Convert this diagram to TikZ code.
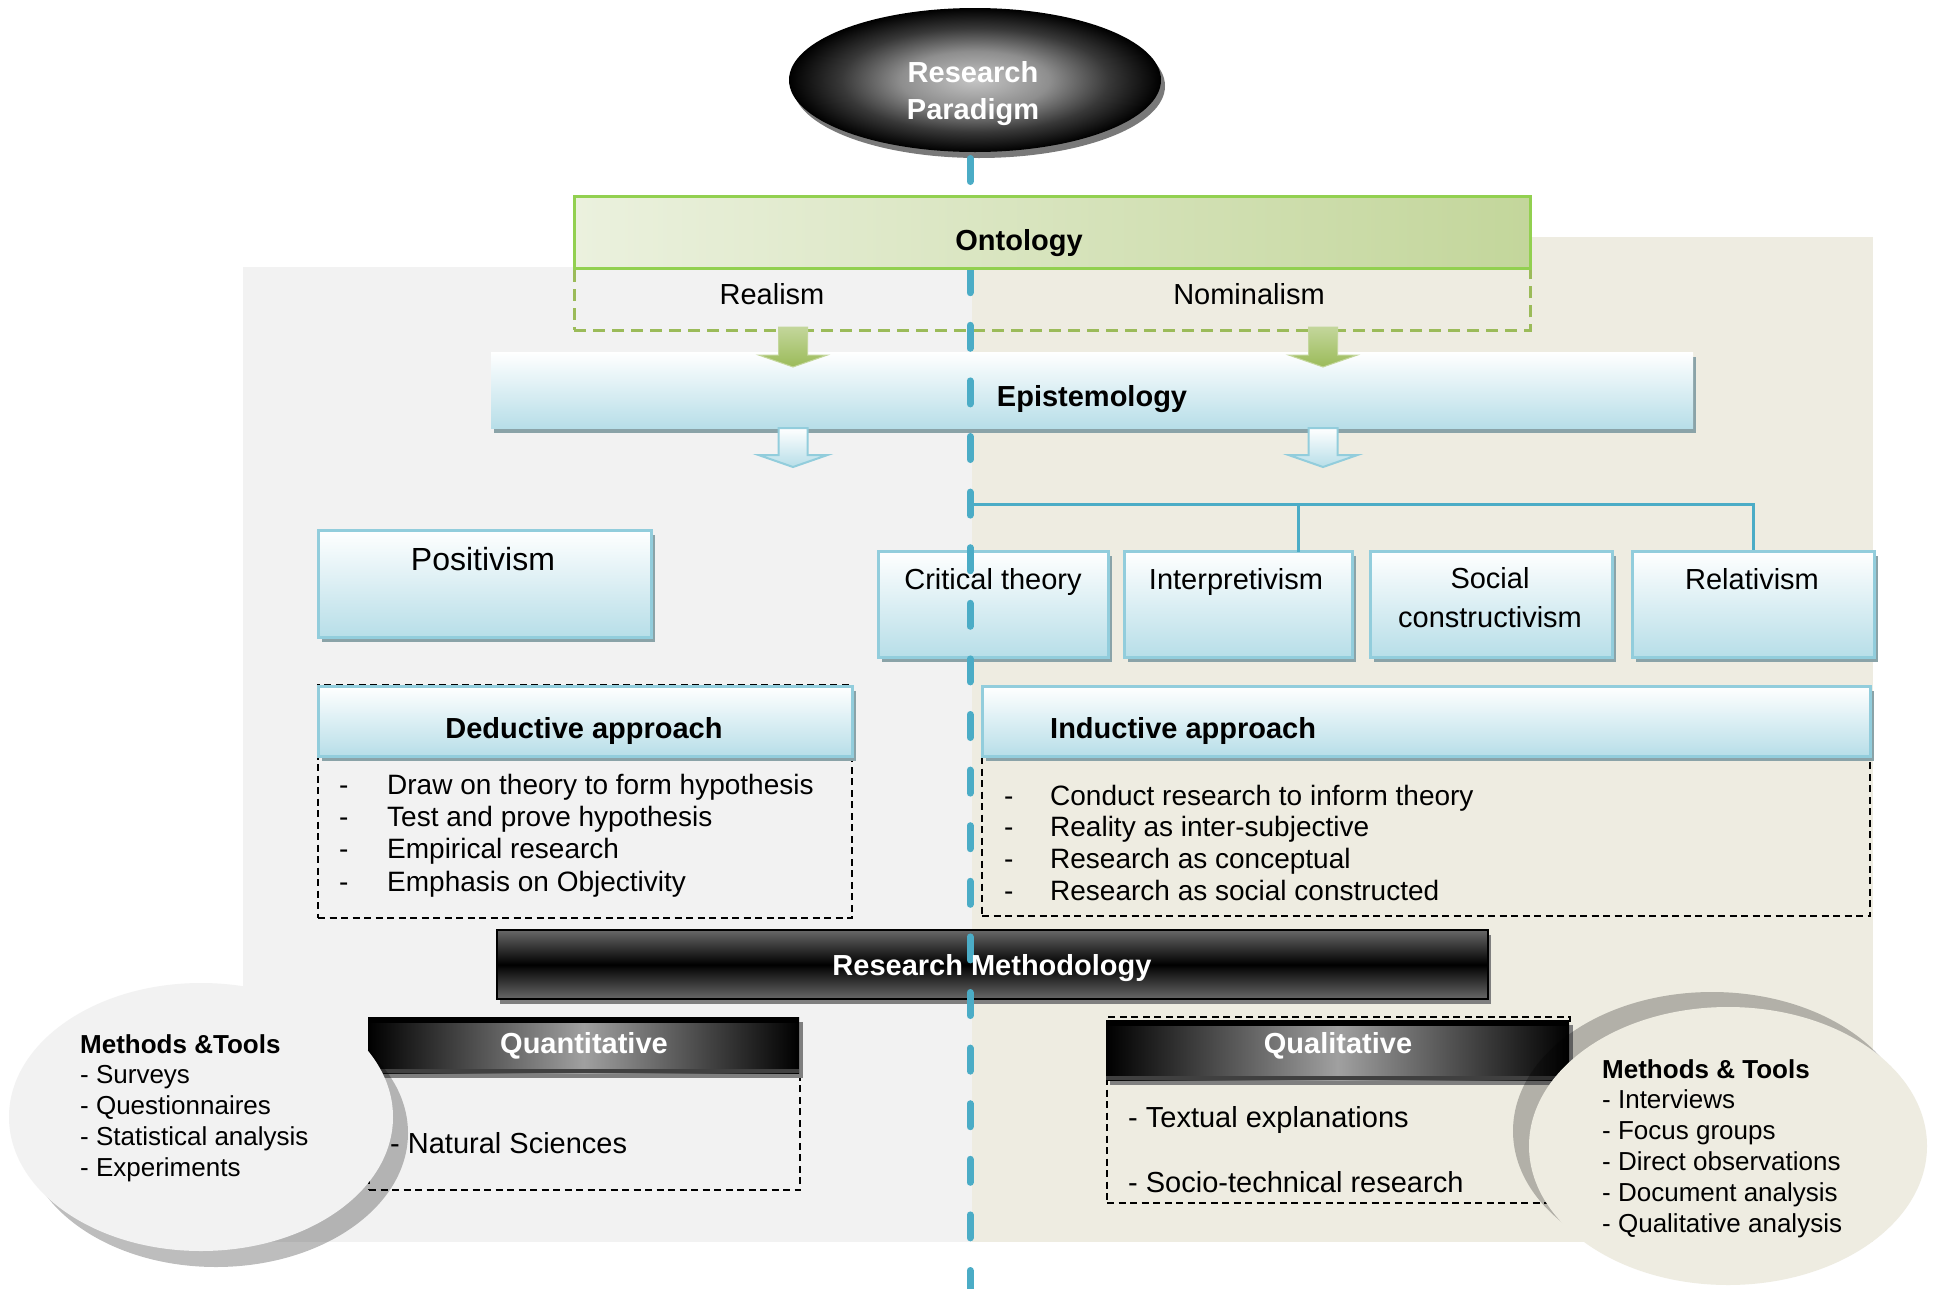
\documentclass[tikz,border=0pt]{standalone}
\usepackage{fontspec}
\setmainfont{Liberation Sans}
\usetikzlibrary{shapes.geometric,shadows}

\definecolor{panelgray}{HTML}{F2F2F2}
\definecolor{paneltan}{HTML}{EEECE1}
\definecolor{spineblue}{HTML}{4BACC6}
\definecolor{lightblue}{HTML}{B7DEE8}
\definecolor{edgeblue}{HTML}{92CDDC}
\definecolor{boxshadow}{HTML}{8AA3A8}
\definecolor{ontoedge}{HTML}{92D050}
\definecolor{ontodash}{HTML}{9BBB59}
\definecolor{ontolight}{HTML}{EBF1DE}
\definecolor{ontomid}{HTML}{C3D69B}
\definecolor{bargray}{HTML}{686868}
\definecolor{barmid}{HTML}{A0A0A0}
\definecolor{barshadow}{HTML}{7F7F7F}
\definecolor{glowa}{HTML}{C4C4C4}
\definecolor{glowb}{HTML}{8E8E8E}
\definecolor{glowc}{HTML}{383838}

% soft grey glow for the paradigm ellipse
\pgfdeclareradialshading{paraglow}{\pgfpointorigin}{color(0bp)=(glowa); color(10bp)=(glowb); color(18bp)=(glowc); color(25bp)=(black); color(50bp)=(black)}

% downward block arrow: style, centre x, top y, head y, tip y
\newcommand\blkarrow[5]{%
  \path[#1] (#2-14.5,#3) -- (#2+14.5,#3) -- (#2+14.5,#4) -- (#2+34.5,#4)
    -- (#2,#5) -- (#2-34.5,#4) -- (#2-14.5,#4) -- cycle;}

\begin{document}
\begin{tikzpicture}[x=1pt, y=-1pt,
  txt/.style={inner sep=0pt, anchor=base, font=\fontsize{29}{35}\selectfont},
  btxt/.style={inner sep=0pt, anchor=base, font=\fontsize{29}{35}\selectfont\bfseries},
  wtxt/.style={btxt, text=white},
  listtxt/.style={inner sep=0pt, anchor=base west, font=\fontsize{28}{34}\selectfont},
  circtxt/.style={inner sep=0pt, anchor=base west, font=\fontsize{26}{31}\selectfont},
  boxbase/.style={rectangle, inner sep=0pt, anchor=north west},
  bluebox/.style={boxbase, draw=edgeblue, line width=2.5pt, top color=white, bottom color=lightblue,
    drop shadow={shadow xshift=4pt, shadow yshift=-5pt, fill=boxshadow, opacity=1}},
  listbox/.style={boxbase, draw=black, line width=2pt, dash pattern=on 7pt off 4.5pt},
  blackbar/.style={boxbase, draw=black, line width=2pt, top color=bargray, bottom color=bargray, middle color=black,
    drop shadow={shadow xshift=3pt, shadow yshift=-5pt, fill=barshadow, opacity=1}},
  sidebar/.style={boxbase, left color=black, right color=black, middle color=barmid,
    drop shadow={shadow xshift=4pt, shadow yshift=-5pt, fill=barshadow, opacity=1}},
  spine/.style={draw=spineblue, line width=7pt, line cap=round, dash pattern=on 23pt off 32.6pt},
  conn/.style={draw=spineblue, line width=3pt},
  greenarrow/.style={top color=ontomid, bottom color=ontodash, draw=ontomid, line width=1pt},
  bluearrow/.style={top color=white, bottom color=lightblue, draw=edgeblue, line width=2pt},
]

% canvas and the two shaded panels
\fill[white] (0,0) rectangle (1941,1288);
\useasboundingbox (0,0) rectangle (1941,1288);
\fill[panelgray] (243,267) rectangle (972,1242);
\fill[paneltan] (972,237) rectangle (1873,1242);

% top ellipse
\node[ellipse, inner sep=0pt, minimum width=372pt, minimum height=144pt,
  shading=paraglow,
  drop shadow={shadow xshift=4pt, shadow yshift=-6pt, fill=gray!95!black, opacity=1}] (para) at (975,80) {};

% ontology categories
\node[boxbase, draw=ontodash, line width=2.5pt, dash pattern=on 12pt off 7pt,
  minimum width=956pt, minimum height=62pt] (ontocat) at (573,267) {};

% epistemology band
\node[boxbase, top color=white, bottom color=lightblue, minimum width=1202pt, minimum height=76pt,
  drop shadow={shadow xshift=3pt, shadow yshift=-5pt, fill=boxshadow, opacity=1}] (episto) at (491,352) {};

\blkarrow{greenarrow}{793}{327}{355}{367}
\blkarrow{greenarrow}{1323}{327}{355}{367}
\blkarrow{bluearrow}{793}{428}{455}{467}
\blkarrow{bluearrow}{1323}{428}{455}{467}

% paradigm branches
\coordinate (junc) at (972,504);
\coordinate (tapI) at (1298,552);
\node[bluebox, minimum width=333pt, minimum height=107pt] (posit) at (317,529) {};
\node[bluebox, minimum width=230pt, minimum height=106pt] (crit) at (877,550) {};
\node[bluebox, minimum width=228pt, minimum height=106pt] (inter) at (1123,550) {};
\node[bluebox, minimum width=242pt, minimum height=106pt] (socc) at (1369,550) {};
\node[bluebox, minimum width=242pt, minimum height=106pt] (relat) at (1631,550) {};
\draw[conn] (junc) -| (relat.north);
\draw[conn] (tapI |- junc) -- (tapI);

% approaches
\node[listbox, minimum width=534pt, minimum height=233pt] (dedlist) at (317,684) {};
\node[listbox, minimum width=888pt, minimum height=215pt] (indlist) at (981,700) {};
\node[bluebox, minimum width=534pt, minimum height=70pt] (dedhead) at (317,685) {};
\node[bluebox, minimum width=888pt, minimum height=70pt] (indhead) at (981,685) {};

% methodology
\node[blackbar, minimum width=991pt, minimum height=69pt] (resmeth) at (496,929) {};

\node[listbox, minimum width=431pt, minimum height=116pt] (quantlist) at (368,1073) {};
\node[sidebar, minimum width=431pt, minimum height=56pt] (quant) at (368,1017) {};
\fill[black] (quant.north west) rectangle ([yshift=-6pt]quant.north east);
\fill[black!75] (quant.south west) rectangle ([yshift=4pt]quant.south east);

\node[listbox, minimum width=463pt, minimum height=186pt] (quallist) at (1106,1016) {};
\node[sidebar, minimum width=463pt, minimum height=60pt] (qual) at (1106,1020) {};
\fill[black] (qual.north west) rectangle ([yshift=-6pt]qual.north east);
\fill[black!75] (qual.south west) rectangle ([yshift=4pt]qual.south east);

% methods and tools bubbles
\node[ellipse, inner sep=0pt, minimum width=384pt, minimum height=268pt, fill=panelgray,
  drop shadow={shadow xshift=15pt, shadow yshift=-16pt, fill=black, opacity=0.26}] (lcirc) at (201,1117) {};
\node[ellipse, inner sep=0pt, minimum width=398pt, minimum height=278pt, fill=paneltan,
  drop shadow={shadow xshift=-16pt, shadow yshift=15pt, fill=black, opacity=0.25}] (rcirc) at (1728,1146) {};

% dashed spine
\coordinate (spinetop) at (970,158.5);
\coordinate (spinebot) at (970,1292);
\draw[spine] (spinetop) -- (spinebot);

% ontology band
\node[boxbase, draw=ontoedge, line width=2.5pt, left color=ontolight, right color=ontomid,
  minimum width=956pt, minimum height=72pt] (onto) at (573,195) {};

% labels
\node[wtxt] (rp1) at (973,82) {Research};
\node[wtxt] (rp2) at (973,119) {Paradigm};
\node[btxt] (ontolbl) at (1019,250) {Ontology};
\node[txt] (real) at (772,304) {Realism};
\node[txt] (nomin) at (1249,304) {Nominalism};
\node[btxt] (epilbl) at (1092,406) {Epistemology};
\node[txt, font=\fontsize{32}{38}\selectfont] (positlbl) at (483,570) {Positivism};
\node[txt] (critlbl) at (993,589) {Critical theory};
\node[txt] (interlbl) at (1236,589) {Interpretivism};
\node[txt] (socclbl1) at (1490,588) {Social};
\node[txt] (socclbl2) at (1490,627) {constructivism};
\node[txt] (relatlbl) at (1752,589) {Relativism};

\node[btxt] (dedlbl) at (584,738) {Deductive approach};
\node[btxt, anchor=base west] (indlbl) at (1050,738) {Inductive approach};

\foreach \t [count=\i, evaluate=\i as \yb using {762+32.3*\i}] in
  {Draw on theory to form hypothesis, Test and prove hypothesis, Empirical research, Emphasis on Objectivity} {
  \node[listtxt] (deddash\i) at (339,\yb) {-};
  \node[listtxt] (dedtxt\i) at (387,\yb) {\t};
}
\foreach \t [count=\i, evaluate=\i as \yb using {773.5+31.7*\i}] in
  {Conduct research to inform theory, Reality as inter-subjective, Research as conceptual, Research as social constructed} {
  \node[listtxt] (inddash\i) at (1004,\yb) {-};
  \node[listtxt] (indtxt\i) at (1050,\yb) {\t};
}

\node[wtxt] (rmlbl) at (992,975) {Research Methodology};
\node[wtxt] (quantlbl) at (584,1053) {Quantitative};
\node[wtxt] (quallbl) at (1338,1053) {Qualitative};
\node[txt, anchor=base west] (natsci) at (390,1153) {- Natural Sciences};
\node[txt, anchor=base west] (textual) at (1128,1127) {- Textual explanations};
\node[txt, anchor=base west] (sociotech) at (1128,1192) {- Socio-technical research};

\node[circtxt, font=\fontsize{26}{31}\selectfont\bfseries] (lmhead) at (80,1053) {Methods \&Tools};
\foreach \t [count=\i, evaluate=\i as \yb using {1053+30.75*\i}] in
  {Surveys, Questionnaires, Statistical analysis, Experiments}
  \node[circtxt] (lm\i) at (80,\yb) {- \t};

\node[circtxt, font=\fontsize{26}{31}\selectfont\bfseries] (rmhead) at (1602,1078) {Methods \& Tools};
\foreach \t [count=\i, evaluate=\i as \yb using {1078+30.8*\i}] in
  {Interviews, Focus groups, Direct observations, Document analysis, Qualitative analysis}
  \node[circtxt] (rm\i) at (1602,\yb) {- \t};

\end{tikzpicture}
\end{document}
